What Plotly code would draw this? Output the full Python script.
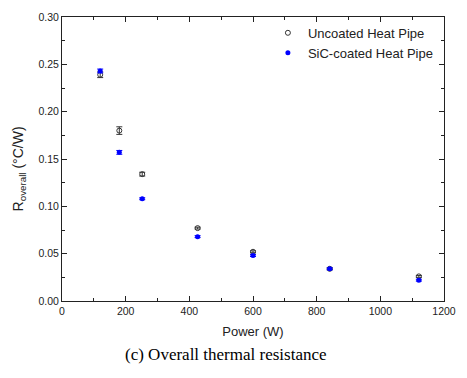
import plotly.graph_objects as go

power = [120, 180, 252, 426, 600, 841, 1121]
r_uncoated = [0.239, 0.180, 0.134, 0.077, 0.052, 0.034, 0.026]
err_uncoated = [0.003, 0.004, 0.002, 0.001, 0.001, 0.001, 0.001]
r_coated = [0.243, 0.157, 0.108, 0.068, 0.048, 0.034, 0.022]
err_coated = [0.002, 0.002, 0.001, 0.001, 0.001, 0.001, 0.001]

fig = go.Figure()
fig.add_trace(go.Scatter(
    x=power, y=r_uncoated, mode="markers", name="Uncoated Heat Pipe",
    marker=dict(symbol="circle-open", size=5, color="#333333", line=dict(width=1)),
    error_y=dict(type="data", array=err_uncoated, color="#333333", thickness=1, width=3),
))
fig.add_trace(go.Scatter(
    x=power, y=r_coated, mode="markers", name="SiC-coated Heat Pipe",
    marker=dict(symbol="circle", size=5, color="#0000ff"),
    error_y=dict(type="data", array=err_coated, color="#0000ff", thickness=1, width=3),
))

axis_common = dict(
    showline=True, linecolor="#222222", linewidth=1, mirror="ticks",
    ticks="inside", ticklen=5, tickcolor="#222222", showgrid=False, zeroline=False,
    tickfont=dict(family="Liberation Sans, Arial", size=10.5, color="#222222"),
)
fig.update_xaxes(
    range=[0, 1200], tickvals=[0, 200, 400, 600, 800, 1000, 1200],
    minor=dict(ticks="inside", ticklen=3, dtick=100, tickcolor="#222222"),
    title=dict(text="Power (W)", font=dict(family="Liberation Sans, Arial", size=13, color="#222222"), standoff=11),
    **axis_common,
)
fig.update_yaxes(
    range=[0, 0.30], dtick=0.05, tickformat=".2f",
    minor=dict(ticks="inside", ticklen=3, dtick=0.025, tickcolor="#222222"),
    **axis_common,
)
fig.update_layout(
    width=467, height=378,
    margin=dict(l=62, r=11, t=12, b=77),
    paper_bgcolor="white", plot_bgcolor="white",
    legend=dict(x=0.539, y=0.997, xanchor="left", yanchor="top",
                font=dict(family="Liberation Sans, Arial", size=13, color="#222222"),
                bgcolor="rgba(0,0,0,0)", itemwidth=30, tracegroupgap=0),
    annotations=[
        dict(
            text="(c) Overall thermal resistance", xref="paper", yref="paper",
            x=0.43, y=-0.19, xanchor="center", yanchor="middle", showarrow=False,
            font=dict(family="Liberation Serif, Times New Roman", size=17, color="#000000"),
        ),
        dict(
            text="R<sub>overall</sub> (°C/W)", xref="paper", yref="paper",
            x=-0.112, y=0.464, xanchor="center", yanchor="middle", textangle=-90,
            showarrow=False,
            font=dict(family="Liberation Sans, Arial", size=14, color="#222222"),
        ),
    ],
)
fig.write_html("out.html")
